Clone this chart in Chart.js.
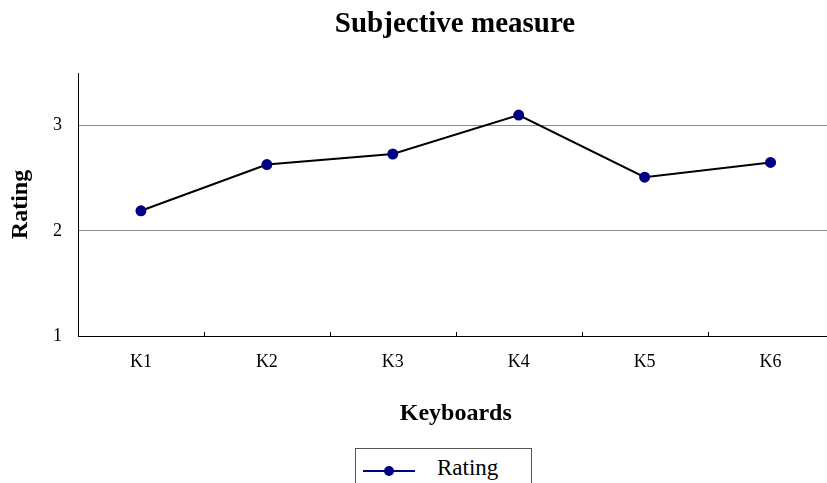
<!DOCTYPE html>
<html>
<head>
<meta charset="utf-8">
<script src="https://cdn.jsdelivr.net/npm/chart.js@4.4.1/dist/chart.umd.min.js"></script>
<style>
  html, body { margin: 0; padding: 0; background: #fff; overflow: hidden; width: 827px; height: 483px; }
  #wrap { position: relative; width: 827px; height: 483px; overflow: hidden; }
  #chart { position: absolute; left: 0; top: 0; }
  #title {
    position: absolute; top: 8px; left: 455px; transform: translateX(-50%);
    font: bold 29px "Liberation Serif", "Times New Roman", serif; line-height: 29px;
    color: #000; white-space: nowrap;
  }
  #legend {
    position: absolute; left: 355px; top: 448px; width: 177px; height: 60px;
    box-sizing: border-box; border: 1px solid #555; background: #fff;
  }
  #legend svg { position: absolute; left: 7px; top: 16px; }
  #legend span {
    position: absolute; left: 81px; top: 7px;
    font: 23px "Liberation Serif", "Times New Roman", serif; line-height: 23px; color: #000;
  }
</style>
</head>
<body>
<div id="wrap">
  <canvas id="chart" width="840" height="483"></canvas>
  <div id="title">Subjective measure</div>
  <div id="legend">
    <svg width="54" height="12" viewBox="0 0 54 12">
      <line x1="0" y1="6" x2="52" y2="6" stroke="#000080" stroke-width="2"/>
      <circle cx="26" cy="6" r="5" fill="#000080"/>
    </svg>
    <span>Rating</span>
  </div>
</div>
<script>
// Keyboard ratings
const categories = ['K1', 'K2', 'K3', 'K4', 'K5', 'K6'];
const ratings = [2.19, 2.63, 2.73, 3.10, 2.51, 2.65];
const yTicks = [1, 2, 3];
const yMin = 1;
const yMax = 3.5;

const serif = '"Liberation Serif", "Times New Roman", serif';

// Short tick marks between categories, pointing up from the x axis
const innerTicks = {
  id: 'innerTicks',
  afterDatasetsDraw(chart) {
    const x = chart.scales.x;
    const ctx = chart.ctx;
    const bottom = chart.chartArea.bottom;
    const step = (x.getPixelForValue(1) - x.getPixelForValue(0));
    ctx.save();
    ctx.strokeStyle = '#000';
    ctx.lineWidth = 1;
    ctx.beginPath();
    for (let i = 1; i < categories.length; i++) {
      const px = Math.round(x.getPixelForValue(i) - step / 2) + 0.5;
      ctx.moveTo(px, bottom);
      ctx.lineTo(px, bottom - 4);
    }
    ctx.stroke();
    ctx.restore();
  }
};

new Chart(document.getElementById('chart'), {
  type: 'line',
  data: {
    labels: categories,
    datasets: [{
      label: 'Rating',
      data: ratings,
      borderColor: '#000',
      borderWidth: 2,
      pointBackgroundColor: '#000080',
      pointBorderColor: '#000080',
      pointRadius: 4.5,
      pointHoverRadius: 4.5,
      tension: 0,
      fill: false
    }]
  },
  options: {
    responsive: false,
    animation: false,
    events: [],
    layout: { padding: { top: 73, bottom: 55, left: 0, right: 5 } },
    plugins: {
      legend: { display: false },
      title: { display: false },
      tooltip: { enabled: false }
    },
    scales: {
      x: {
        type: 'category',
        offset: true,
        afterFit(scale) { scale.height = 92; },
        grid: { display: false, drawTicks: false },
        border: { display: true, color: '#000', width: 1 },
        ticks: {
          color: '#000',
          padding: 15,
          maxRotation: 0,
          font: { family: serif, size: 18 }
        },
        title: {
          display: true,
          text: 'Keyboards',
          color: '#000',
          padding: { top: 0, bottom: 0 },
          font: { family: serif, size: 24, weight: 'bold' }
        }
      },
      y: {
        min: yMin,
        max: yMax,
        afterFit(scale) { scale.width = 78; },
        afterBuildTicks(scale) { scale.ticks = yTicks.map(v => ({ value: v })); },
        grid: {
          drawTicks: false,
          color: ctx => (ctx.tick && ctx.tick.value === yMin) ? 'rgba(0,0,0,0)' : '#8c8c8c',
          lineWidth: 1
        },
        border: { display: true, color: '#000', width: 1 },
        ticks: {
          color: '#000',
          padding: 16,
          font: { family: serif, size: 18 }
        },
        title: {
          display: true,
          text: 'Rating',
          color: '#000',
          padding: { top: 6, bottom: 0 },
          font: { family: serif, size: 24, weight: 'bold' }
        }
      }
    }
  },
  plugins: [innerTicks]
});
</script>
</body>
</html>
